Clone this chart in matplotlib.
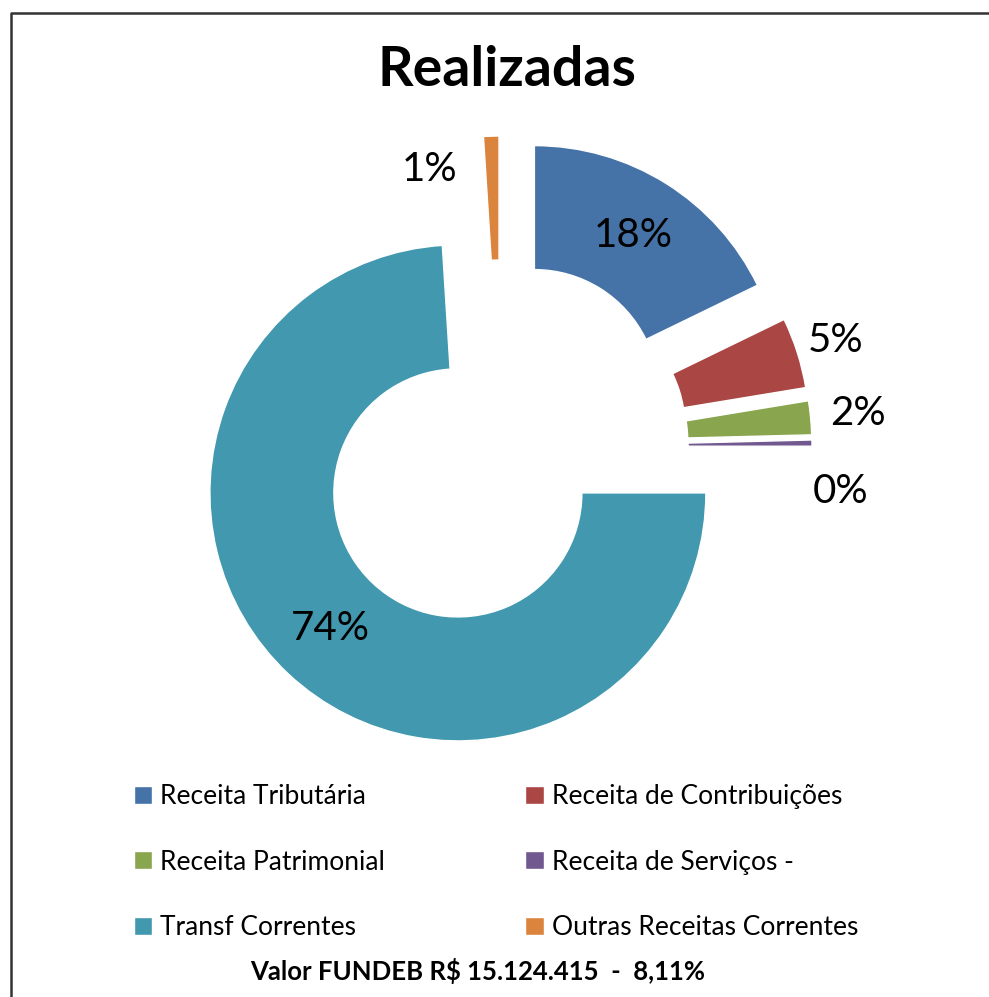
import matplotlib
matplotlib.use("Agg")
import matplotlib.pyplot as plt
import numpy as np
from matplotlib.lines import Line2D

categories = ["Receita Tributária", "Receita de Contribuições", "Receita Patrimonial",
              "Receita de Serviços -", "Transf Correntes", "Outras Receitas Correntes"]
shares = [17.8, 4.6, 2.2, 0.4, 74.0, 1.0]
colors = ["#4572A7", "#AA4643", "#89A54E", "#71588F", "#4198AF", "#DB843D"]
title = "Realizadas"
footer = "Valor FUNDEB R$ 15.124.415  -  8,11%"

# where the % labels sit: distance from slice centre (x radius) and angle shift (deg)
label_dist = [0.75, 1.16, 1.19, 1.13, 0.75, 0.91]
label_shift = [0, 0, 0, -10, 0, 16]

plt.rcParams['font.family'] = ['Lato', 'DejaVu Sans']

W, H = 989, 997
fig = plt.figure(figsize=(W / 100, H / 100), dpi=100)
ax = fig.add_axes([0, 0, 1, 1])

# pie radius 1 -> 248 px, centre at pixel (501, 447)
px = 248
cx, cy = 501, 447

wedges, _, pcts = ax.pie(shares, colors=colors, startangle=90, counterclock=False,
                         explode=[0.254] * len(shares),
                         autopct='%.0f%%', pctdistance=0.75,
                         wedgeprops=dict(width=0.5, edgecolor='white', linewidth=1.0),
                         textprops=dict(fontsize=29, color='black'))

for w, t, d, s in zip(wedges, pcts, label_dist, label_shift):
    th = np.deg2rad((w.theta1 + w.theta2) / 2 + s)
    x0, y0 = w.center
    t.set_position((x0 + d * np.cos(th), y0 + d * np.sin(th)))
    t.set_ha('center')
    t.set_va('center')

ax.set_xlim(-cx / px, (W - cx) / px)
ax.set_ylim(-(H - cy) / px, cy / px)
ax.set_aspect('equal')
ax.axis('off')

# legend is filled row by row in the original
order = [0, 2, 4, 1, 3, 5]
ax.legend([wedges[i] for i in order], [categories[i] for i in order], ncol=2,
          loc='upper left', bbox_to_anchor=(134 / W, 1 - 784 / H),
          bbox_transform=fig.transFigure, frameon=False, fontsize=19,
          handlelength=0.7, handleheight=0.68, handletextpad=0.3,
          columnspacing=5.3, labelspacing=1.54, borderpad=0, borderaxespad=0)

fig.text(507 / W, 1 - 70 / H, title, ha='center', va='center',
         fontsize=40, fontweight='bold')
fig.text(478 / W, 1 - 971 / H, footer, ha='center', va='center',
         fontsize=18.5, fontweight='bold')

fig.add_artist(Line2D([11 / W, 11 / W, 1.01], [-0.01, 1 - 13 / H, 1 - 13 / H],
                      color='#333333', lw=1.8, transform=fig.transFigure))

fig.savefig("out.png", dpi=100)
